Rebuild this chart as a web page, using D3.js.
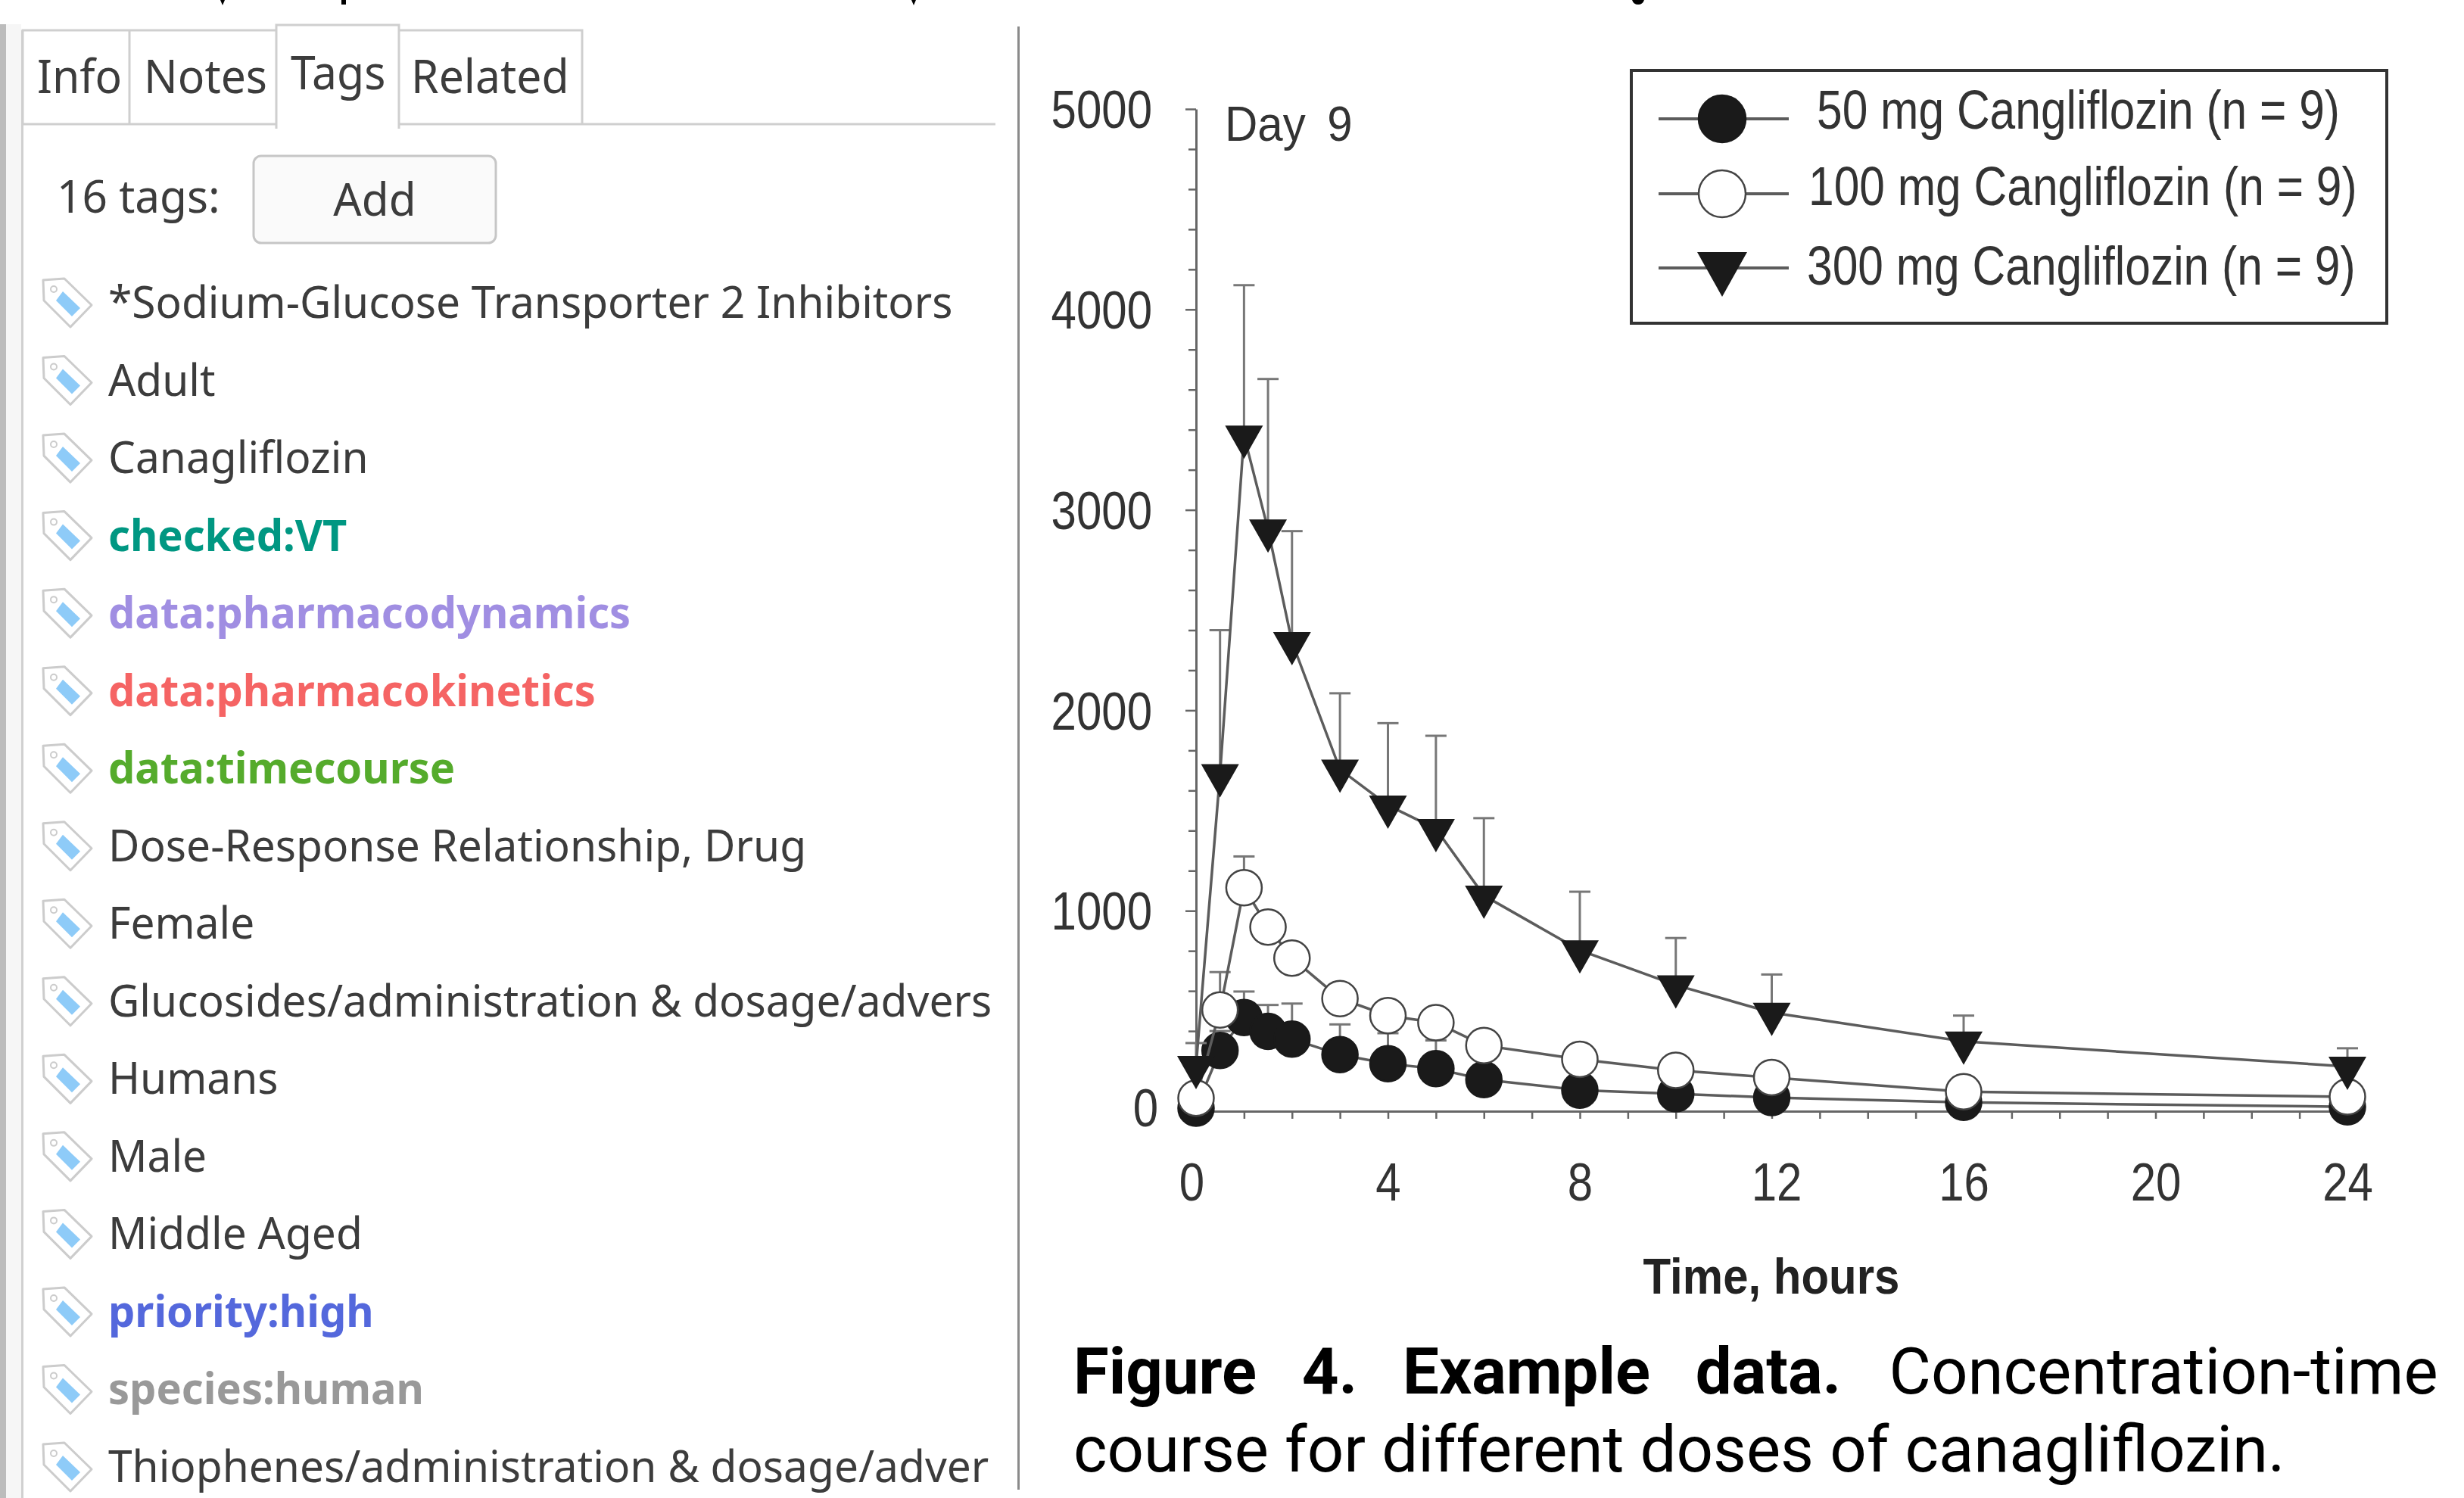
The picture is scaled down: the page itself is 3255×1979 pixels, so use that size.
<!DOCTYPE html>
<html>
<head>
<meta charset="utf-8">
<script src="https://cdn.jsdelivr.net/npm/d3@7"></script>
<style>
  html, body { margin: 0; padding: 0; background: #fff; }
  svg { display: block; }
</style>
</head>
<body>
<div id="chart"></div>
<script>
// chart values
var hours = [0, 0.5, 1, 1.5, 2, 3, 4, 5, 6, 8, 10, 12, 16, 24];
var mg50 = [15, 303, 467, 398, 360, 282, 237, 212, 158, 105, 87, 68, 44, 22];
var mg100 = [65, 505, 1115, 919, 764, 562, 477, 442, 328, 259, 204, 168, 97, 72];
var mg300 = [227, 1682, 3371, 2903, 2341, 1705, 1526, 1409, 1076, 803, 629, 492, 348, 223];
var err50 = [null, 400, 597, 530, 537, 433, 389, 353, null, null, null, null, null, null];
var err100 = [null, 694, 1271, null, null, null, null, null, null, null, null, null, null, null];
var err300 = [340, 2400, 4121, 3653, 2894, 2085, 1936, 1873, 1462, 1095, 864, 682, 477, 314];
var xLabels = [0, 4, 8, 12, 16, 20, 24];
var legendLabels = ['50 mg Cangliflozin (n = 9)', '100 mg Cangliflozin (n = 9)', '300 mg Cangliflozin (n = 9)'];

// side panel text
var tabNames = ['Info', 'Notes', 'Tags', 'Related'];
var tagNames = ['*Sodium-Glucose Transporter 2 Inhibitors', 'Adult', 'Canagliflozin', 'checked:VT',
  'data:pharmacodynamics', 'data:pharmacokinetics', 'data:timecourse', 'Dose-Response Relationship, Drug',
  'Female', 'Glucosides/administration & dosage/advers', 'Humans', 'Male', 'Middle Aged',
  'priority:high', 'species:human', 'Thiophenes/administration & dosage/adver'];
var tagColors = ['#3c3c3c', '#3c3c3c', '#3c3c3c', '#009782', '#a08ee2', '#f56464', '#55ab2c', '#3c3c3c',
  '#3c3c3c', '#3c3c3c', '#3c3c3c', '#3c3c3c', '#3c3c3c', '#5468dc', '#999999', '#3c3c3c'];

var W = 3255, H = 1979;
var svg = d3.select('#chart').append('svg').attr('width', W).attr('height', H);
var uiFont = '"Noto Sans", sans-serif';
var plotFont = '"Liberation Sans", Arial, sans-serif';

// ---- left panel ----
var panel = svg.append('g');
panel.append('rect').attr('x', 0).attr('y', 32).attr('width', 28).attr('height', H - 32).attr('fill', '#f6f6f6');
panel.append('rect').attr('x', 0).attr('y', 32).attr('width', 8).attr('height', H - 32).attr('fill', '#bcbcbc');
panel.append('rect').attr('x', 28).attr('y', 40).attr('width', 3).attr('height', H - 40).attr('fill', '#d0d0d0');

var tabEdge = '#cfcfcf';
panel.append('path').attr('fill', 'none').attr('stroke', tabEdge).attr('stroke-width', 3)
  .attr('d', 'M30,164V40H365M30,164H365M527,40H769V164M527,164H1315M171,40V164');
panel.append('path').attr('fill', '#fff').attr('stroke', tabEdge).attr('stroke-width', 3)
  .attr('d', 'M365,170V33H527V170');

var tabX = [49, 190, 384, 543];
var tabBase = [123, 123, 118, 123];
panel.selectAll('text.tab').data(tabNames).join('text').attr('class', 'tab')
  .attr('transform', function(d, i) { return 'translate(' + tabX[i] + ',' + tabBase[i] + ') scale(0.95,1)'; })
  .attr('font-family', uiFont).attr('font-size', 62).attr('fill', '#3c3c3c')
  .text(function(d) { return d; });

panel.append('text').attr('transform', 'translate(75,281) scale(0.975,1)')
  .attr('font-family', uiFont).attr('font-size', 60).attr('fill', '#3c3c3c').text('16 tags:');
panel.append('rect').attr('x', 335).attr('y', 206).attr('width', 320).attr('height', 115).attr('rx', 10)
  .attr('fill', '#fafafa').attr('stroke', '#c6c6c6').attr('stroke-width', 3);
panel.append('text').attr('transform', 'translate(495,285) scale(0.975,1)').attr('text-anchor', 'middle')
  .attr('font-family', uiFont).attr('font-size', 60).attr('fill', '#3c3c3c').text('Add');

var rowY = d3.scaleLinear().domain([0, 15]).range([420, 1958]);
var rows = panel.append('g').selectAll('g').data(tagNames).join('g')
  .attr('transform', function(d, i) { return 'translate(0,' + rowY(i) + ')'; });
rows.append('path').attr('d', 'M57,-50L85,-52L121,-17L93,12L58,-23Z')
  .attr('fill', '#fff').attr('stroke', '#cccccc').attr('stroke-width', 3).attr('stroke-linejoin', 'round');
rows.append('path').attr('d', 'M83,-35L106,-13L95,-2L74,-23Z').attr('fill', '#8ecbf8');
rows.append('circle').attr('cx', 71).attr('cy', -38).attr('r', 4).attr('fill', 'none').attr('stroke', '#cccccc').attr('stroke-width', 2);
rows.append('text')
  .attr('transform', function(d, i) { return 'translate(143,0) scale(' + (tagColors[i] === '#3c3c3c' ? 0.98 : 0.965) + ',1)'; })
  .attr('font-family', uiFont).attr('font-size', 58)
  .attr('font-weight', function(d, i) { return tagColors[i] === '#3c3c3c' ? 400 : 700; })
  .attr('fill', function(d, i) { return tagColors[i]; })
  .text(function(d) { return d; });

// divider between panel and figure
svg.append('rect').attr('x', 1344).attr('y', 35).attr('width', 3).attr('height', 1933).attr('fill', '#8a8a8a');

// ---- plot ----
var x = d3.scaleLinear().domain([0, 24]).range([1580, 3101]);
var y = d3.scaleLinear().domain([0, 5000]).range([1468, 144]);
var axisGrey = '#666';

var yAxis = svg.append('g').attr('transform', 'translate(' + x(0) + ',0)')
  .call(d3.axisLeft(y).tickValues(d3.range(0, 5001, 200)).tickSizeOuter(0).tickPadding(52)
    .tickFormat(function(v) { return v % 1000 === 0 ? v : ''; }));
var xAxis = svg.append('g').attr('transform', 'translate(0,' + y(0) + ')')
  .call(d3.axisBottom(x).tickValues(d3.range(0, 25, 1)).tickSizeOuter(0).tickSize(10)
    .tickFormat(function(v) { return xLabels.indexOf(v) >= 0 ? v : ''; }));

[yAxis, xAxis].forEach(function(a) {
  a.select('.domain').attr('stroke', axisGrey).attr('stroke-width', 3);
  a.selectAll('.tick line').attr('stroke', axisGrey).attr('stroke-width', 2.5);
  a.selectAll('text').attr('font-family', plotFont).attr('font-size', 60).attr('fill', '#333');
});
yAxis.selectAll('.tick line').attr('x2', function(v) { return v % 1000 === 0 ? -14 : -10; });
yAxis.selectAll('.tick text').attr('transform', function(v) {
  return 'translate(' + (v === 0 ? 8 : 0) + ',' + (v === 0 ? -3 : 2) + ') scale(1,1.18)';
});
xAxis.selectAll('.tick text').attr('y', 0).attr('dy', '0.35em').attr('transform', function(v) {
  return 'translate(' + (v === 0 ? -6 : v === 12 ? 6 : 0) + ',93) scale(1,1.18)';
});

var line = d3.line().x(function(d) { return x(d.t); }).y(function(d) { return y(d.v); });
var series = [
  { values: mg50, errs: err50, kind: 'filled' },
  { values: mg100, errs: err100, kind: 'open' },
  { values: mg300, errs: err300, kind: 'down' }
];
var triangle = 'M-25,-13L25,-13L0,31Z';

series.forEach(function(s) {
  var pts = hours.map(function(t, i) { return { t: t, v: s.values[i], e: s.errs[i] }; });
  var g = svg.append('g');
  var withErr = pts.filter(function(p) { return p.e !== null; });
  g.selectAll('line.stem').data(withErr).join('line').attr('class', 'stem')
    .attr('x1', function(p) { return x(p.t); }).attr('x2', function(p) { return x(p.t); })
    .attr('y1', function(p) { return y(p.v); }).attr('y2', function(p) { return y(p.e); })
    .attr('stroke', '#777').attr('stroke-width', 3);
  g.selectAll('line.cap').data(withErr).join('line').attr('class', 'cap')
    .attr('x1', function(p) { return x(p.t) - 14; }).attr('x2', function(p) { return x(p.t) + 14; })
    .attr('y1', function(p) { return y(p.e); }).attr('y2', function(p) { return y(p.e); })
    .attr('stroke', '#777').attr('stroke-width', 3);
  g.append('path').datum(pts).attr('d', line).attr('fill', 'none').attr('stroke', '#5c5c5c').attr('stroke-width', 3.5);
  if (s.kind === 'down') {
    g.selectAll('path.mark').data(pts).join('path').attr('class', 'mark').attr('d', triangle)
      .attr('transform', function(p) { return 'translate(' + x(p.t) + ',' + y(p.v) + ')'; })
      .attr('fill', '#1a1a1a');
  } else {
    g.selectAll('circle').data(pts).join('circle')
      .attr('cx', function(p) { return x(p.t); }).attr('cy', function(p) { return y(p.v); }).attr('r', 23.5)
      .attr('fill', s.kind === 'filled' ? '#1a1a1a' : '#fff')
      .attr('stroke', s.kind === 'filled' ? '#1a1a1a' : '#444').attr('stroke-width', 2.5);
  }
});

svg.append('text').attr('transform', 'translate(1618,186) scale(1,1.07)')
  .attr('font-family', plotFont).attr('font-size', 60).attr('fill', '#333').attr('word-spacing', 12).text('Day 9');
svg.append('text').attr('transform', 'translate(2340,1709) scale(1,1.12)').attr('text-anchor', 'middle')
  .attr('font-family', plotFont).attr('font-size', 60).attr('font-weight', 700).attr('fill', '#222').text('Time, hours');

// legend
var legend = svg.append('g');
legend.append('rect').attr('x', 2155).attr('y', 93).attr('width', 998).attr('height', 334)
  .attr('fill', '#fff').attr('stroke', '#333').attr('stroke-width', 4);
var legendY = [157, 256, 354];
var legendTextX = [2400, 2389, 2387];
var legendBase = [170, 271, 376];
var legendRows = legend.selectAll('g').data(legendLabels).join('g');
legendRows.append('line').attr('x1', 2191).attr('x2', 2363)
  .attr('y1', function(d, i) { return legendY[i]; }).attr('y2', function(d, i) { return legendY[i]; })
  .attr('stroke', '#5c5c5c').attr('stroke-width', 4);
legendRows.append('text')
  .attr('transform', function(d, i) { return 'translate(' + legendTextX[i] + ',' + legendBase[i] + ') scale(1,1.2)'; })
  .attr('font-family', plotFont).attr('font-size', 60.5).attr('fill', '#333')
  .text(function(d) { return d; });
legendRows.filter(function(d, i) { return i < 2; }).append('circle')
  .attr('cx', 2275).attr('cy', function(d, i) { return legendY[i]; }).attr('r', 31)
  .attr('fill', function(d, i) { return i === 0 ? '#1a1a1a' : '#fff'; })
  .attr('stroke', function(d, i) { return i === 0 ? '#1a1a1a' : '#444'; }).attr('stroke-width', 2.5);
legendRows.filter(function(d, i) { return i === 2; }).append('path')
  .attr('d', 'M-33,-21L33,-21L0,38Z').attr('transform', 'translate(2275,' + legendY[2] + ')').attr('fill', '#1a1a1a');

// caption
var caption = svg.append('g').attr('font-family', 'Roboto, sans-serif').attr('font-size', 86).attr('fill', '#000');
var first = caption.append('text').attr('transform', 'translate(1418,1841) scale(0.99,1)').attr('word-spacing', 39);
first.append('tspan').attr('font-weight', 700).text('Figure 4. Example data.');
first.append('tspan').attr('dx', 64).text('Concentration-time');
caption.append('text').attr('transform', 'translate(1418,1944) scale(0.99,1)').text('course for different doses of canagliflozin.');

// specks left along the top edge by a line of text above the crop
svg.append('path').attr('fill', '#000')
  .attr('d', 'M291,0h6l-3,7ZM451,0h6v6h-6ZM1204,0h6l-3,7ZM2156,0h16q-2,6,-8,6t-8,-6Z');
</script>
</body>
</html>
